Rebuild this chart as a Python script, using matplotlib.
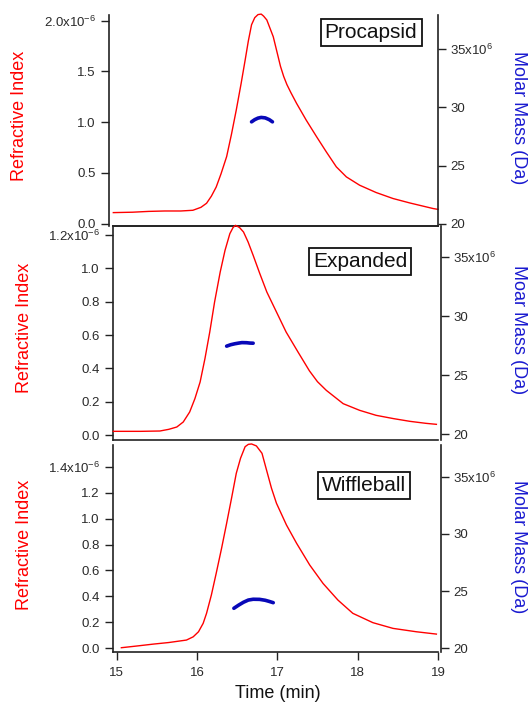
import matplotlib
matplotlib.use("Agg")
import matplotlib.pyplot as plt
from matplotlib.ticker import FixedLocator, FixedFormatter

plt.rcParams['font.family'] = ['Liberation Sans', 'DejaVu Sans']
plt.rcParams['mathtext.default'] = 'regular'

# Time axis (min), refractive index in units of 1e-6, molar mass in units of 1e6 Da
# Procapsid
t_pro = [14.96, 15.20, 15.40, 15.60, 15.80, 15.95, 16.05, 16.12, 16.18, 16.24, 16.30,
         16.37, 16.43, 16.49, 16.55, 16.60, 16.64, 16.68, 16.72, 16.76, 16.80, 16.83,
         16.87, 16.95, 17.00, 17.04, 17.08, 17.12, 17.17, 17.24, 17.36, 17.49, 17.61,
         17.735, 17.86, 18.025, 18.23, 18.44, 18.65, 18.94, 19.00]
ri_pro = [0.108, 0.112, 0.120, 0.124, 0.124, 0.131, 0.16, 0.20, 0.27, 0.36, 0.49,
          0.66, 0.88, 1.12, 1.38, 1.61, 1.80, 1.96, 2.03, 2.06, 2.065, 2.045,
          2.007, 1.842, 1.68, 1.55, 1.45, 1.37, 1.29, 1.185, 1.020, 0.855, 0.707,
          0.559, 0.460, 0.378, 0.306, 0.247, 0.203, 0.148, 0.14]
tm_pro = [16.68, 16.72, 16.76, 16.80, 16.85, 16.90, 16.94]
mm_pro = [28.76, 28.95, 29.08, 29.14, 29.10, 28.95, 28.76]

# Expanded
t_exp = [14.96, 15.30, 15.54, 15.65, 15.75, 15.83, 15.91, 15.975, 16.04, 16.10, 16.16,
         16.22, 16.29, 16.35, 16.41, 16.45, 16.48, 16.53, 16.58, 16.637, 16.70, 16.783,
         16.87, 16.99, 17.11, 17.258, 17.40, 17.50, 17.61, 17.82, 18.025, 18.23, 18.45,
         18.65, 18.85, 18.98]
ri_exp = [0.022, 0.022, 0.024, 0.034, 0.048, 0.078, 0.138, 0.218, 0.318, 0.458, 0.618,
          0.798, 0.978, 1.108, 1.208, 1.245, 1.258, 1.245, 1.218, 1.158, 1.078, 0.968,
          0.858, 0.738, 0.618, 0.498, 0.385, 0.32, 0.268, 0.188, 0.148, 0.118, 0.098,
          0.082, 0.070, 0.064]
tm_exp = [16.37, 16.42, 16.47, 16.52, 16.56, 16.62, 16.66, 16.70]
mm_exp = [27.46, 27.58, 27.66, 27.72, 27.76, 27.75, 27.72, 27.71]

# Wiffleball
t_wif = [15.06, 15.25, 15.46, 15.65, 15.87, 15.954, 16.02, 16.078, 16.12, 16.18, 16.24,
         16.307, 16.37, 16.431, 16.49, 16.543, 16.60, 16.64, 16.68, 16.74, 16.81, 16.866,
         16.928, 16.99, 17.114, 17.24, 17.404, 17.57, 17.755, 17.94, 18.19, 18.44, 18.73,
         18.98]
ri_wif = [0.005, 0.018, 0.033, 0.045, 0.064, 0.089, 0.128, 0.193, 0.27, 0.411, 0.578,
          0.771, 0.964, 1.157, 1.349, 1.465, 1.554, 1.572, 1.575, 1.56, 1.503, 1.375,
          1.234, 1.118, 0.951, 0.81, 0.642, 0.50, 0.372, 0.27, 0.198, 0.154, 0.128,
          0.110]
tm_wif = [16.46, 16.52, 16.58, 16.64, 16.70, 16.78, 16.85, 16.90, 16.95]
mm_wif = [23.50, 23.78, 24.03, 24.22, 24.29, 24.28, 24.20, 24.10, 23.99]

names = ["Procapsid", "Expanded", "Wiffleball"]
right_labels = ["Molar Mass (Da)", "Moar Mass (Da)", "Molar Mass (Da)"]
ri_ticks = [[0.0, 0.5, 1.0, 1.5, 2.0],
            [0.0, 0.2, 0.4, 0.6, 0.8, 1.0, 1.2],
            [0.0, 0.2, 0.4, 0.6, 0.8, 1.0, 1.2, 1.4]]
mm_ticks = [20, 25, 30, 35]
time_ticks = [15, 16, 17, 18, 19]

RED = '#ff0000'
BLUE = '#0808b8'
TXT = '#2a2a2a'

W, H = 531, 702
fig = plt.figure(figsize=(W / 100, H / 100), dpi=100)

# panel pixel boxes: (top, bottom)
boxes = [(15, 226), (226, 440), (445, 652)]
ri_lims = [(-0.024, 2.056), (-0.03, 1.254), (-0.028, 1.567)]
mm_lims = [(19.8, 37.95), (19.5, 37.65), (19.68, 37.77)]
name_pos = [(0.794, 0.917), (0.760, 0.834), (0.772, 0.804)]
left_lab_x = [20, 25, 25]
lab_y = [116, 328, 545]

data = [(t_pro, ri_pro, tm_pro, mm_pro),
        (t_exp, ri_exp, tm_exp, mm_exp),
        (t_wif, ri_wif, tm_wif, mm_wif)]

x0, x1 = 113, 438
for i, (t, ri, tm, mm) in enumerate(data):
    top, bot = boxes[i]
    ax = fig.add_axes([x0 / W, (H - bot) / H, (x1 - x0) / W, (bot - top) / H])
    ax2 = ax.twinx()

    ax.plot(t, ri, color=RED, lw=1.0, clip_on=False, zorder=3)
    ax2.plot(tm, mm, color=BLUE, lw=2.6, solid_capstyle='round')

    ax.set_xlim(14.956, 19.0)
    ax.set_ylim(*ri_lims[i])
    ax2.set_ylim(*mm_lims[i])

    # left axis ticks
    labs = ['%.1f' % v for v in ri_ticks[i]]
    labs[-1] = labs[-1] + r'x10$^{-6}$'
    ax.yaxis.set_major_locator(FixedLocator(ri_ticks[i]))
    ax.yaxis.set_major_formatter(FixedFormatter(labs))
    mlabs = [str(v) for v in mm_ticks]
    mlabs[-1] = mlabs[-1] + r'x10$^{6}$'
    ax2.yaxis.set_major_locator(FixedLocator(mm_ticks))
    ax2.yaxis.set_major_formatter(FixedFormatter(mlabs))
    ax.xaxis.set_major_locator(FixedLocator(time_ticks))

    for a in (ax, ax2):
        a.set_facecolor('none')
        a.tick_params(direction='out', length=6, width=1.0, labelsize=9.5,
                      colors='#222222', labelcolor=TXT, pad=3.5)
        for s in a.spines.values():
            s.set_linewidth(1.2)
            s.set_color('#222222')

    ax.spines['right'].set_visible(False)
    for s in ('left', 'top', 'bottom'):
        ax2.spines[s].set_visible(False)
    ax2.tick_params(axis='y', pad=3)

    if i == 0:
        ax.spines['top'].set_visible(False)
        ax.spines['left'].set_position(('outward', 3))
    if i == 1:
        ax2.spines['right'].set_position(('outward', 2))
    if i == 2:
        ax.spines['top'].set_visible(False)
        ax2.spines['right'].set_position(('outward', 2))
        ax.tick_params(axis='x', labelsize=9.5, pad=5)
        ax.set_xlabel('Time (min)', fontsize=13, color='#111111', va='top')
        ax.xaxis.set_label_coords(277.5 / W, (H - 685) / H, transform=fig.transFigure)
    else:
        ax.tick_params(axis='x', bottom=False, labelbottom=False)

    ax.set_ylabel('Refractive Index', fontsize=13, color=RED, va='center', ha='center')
    ax.yaxis.set_label_coords(left_lab_x[i] / W, (H - lab_y[i]) / H,
                              transform=fig.transFigure)
    ax2.set_ylabel(right_labels[i], fontsize=13, color='#1a1ad0', rotation=-90,
                   va='center', ha='center')
    ax2.yaxis.set_label_coords(519 / W, (H - lab_y[i] - 2) / H,
                               transform=fig.transFigure)

    ax.text(name_pos[i][0], name_pos[i][1], names[i], transform=ax.transAxes,
            fontsize=15, color='#111111', ha='center', va='center', zorder=5,
            bbox=dict(boxstyle='square,pad=0.2', fc='white', ec='#111111', lw=1.3))

fig.savefig('out.png', dpi=100)
